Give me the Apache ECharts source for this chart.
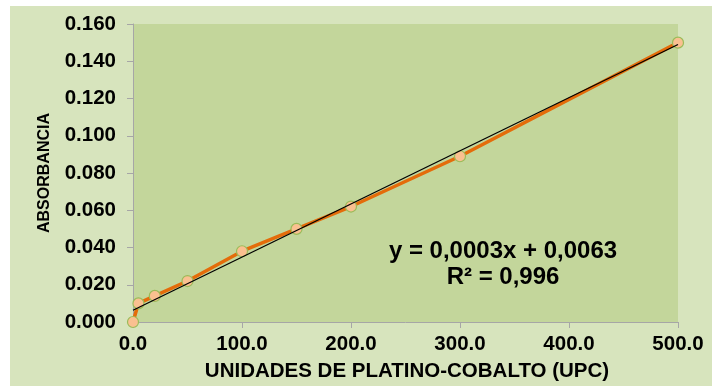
<!DOCTYPE html>
<html>
<head>
<meta charset="utf-8">
<script src="https://cdn.jsdelivr.net/npm/echarts@6/dist/echarts.min.js"></script>
<style>
html,body{margin:0;padding:0;background:#ffffff;}
#bg{position:absolute;left:10px;top:6px;width:702px;height:380px;background:#D7E4BD;}
#chart{position:absolute;left:0;top:0;width:712px;height:386px;}
</style>
</head>
<body>
<div id="bg"></div>
<div id="chart"></div>
<script>
// Data
const upc = [0, 5, 20, 50, 100, 150, 200, 300, 500];
const absorbance = [0.000, 0.010, 0.014, 0.022, 0.038, 0.050, 0.062, 0.089, 0.150];
const trendX = [0, 500];
const trendY = [0.0063, 0.149];
const equationText = 'y = 0,0003x + 0,0063';
const r2Text = 'R² = 0,996';
const xTitle = 'UNIDADES DE PLATINO-COBALTO (UPC)';
const yTitle = 'ABSORBANCIA';

const chart = echarts.init(document.getElementById('chart'), null, {renderer: 'canvas'});
const font = '"Liberation Sans", Arial, sans-serif';
const axisGray = '#A6A6A6';

chart.setOption({
  animation: false,
  backgroundColor: 'transparent',
  grid: {left: 133, top: 24, right: 34, bottom: 64, show: true, backgroundColor: '#C3D69B', borderWidth: 0},
  xAxis: {
    type: 'value', min: 0, max: 500, interval: 100,
    axisLine: {show: true, lineStyle: {color: axisGray, width: 1}},
    axisTick: {show: true, length: 6, lineStyle: {color: axisGray}},
    splitLine: {show: false},
    axisLabel: {margin: 12, color: '#000', fontFamily: font, fontWeight: 'bold', fontSize: 20.5,
      formatter: v => v.toFixed(1)}
  },
  yAxis: {
    type: 'value', min: 0, max: 0.16, interval: 0.02,
    axisLine: {show: true, lineStyle: {color: axisGray, width: 1}},
    axisTick: {show: true, length: 6, lineStyle: {color: axisGray}},
    splitLine: {show: false},
    axisLabel: {margin: 17, color: '#000', fontFamily: font, fontWeight: 'bold', fontSize: 20.5,
      formatter: v => v.toFixed(3)}
  },
  series: [
    {
      type: 'line',
      data: upc.map((x, i) => [x, absorbance[i]]),
      lineStyle: {color: '#E46C0A', width: 3.5},
      symbol: 'circle', symbolSize: 11,
      itemStyle: {color: '#FAC090', borderColor: '#9BBB59', borderWidth: 1.2},
      z: 2
    },
    {
      type: 'line',
      data: trendX.map((x, i) => [x, trendY[i]]),
      lineStyle: {color: '#000000', width: 1.3},
      symbol: 'none',
      z: 3
    }
  ],
  graphic: [
    {type: 'text', x: 503, y: 251, z: 10, style: {text: equationText, fill: '#000', font: 'bold 24px ' + font, textAlign: 'center', textVerticalAlign: 'middle'}},
    {type: 'text', x: 503, y: 277, z: 10, style: {text: r2Text, fill: '#000', font: 'bold 24px ' + font, textAlign: 'center', textVerticalAlign: 'middle'}},
    {type: 'text', x: 407, y: 371, z: 10, style: {text: xTitle, fill: '#000', font: 'bold 20.5px ' + font, textAlign: 'center', textVerticalAlign: 'middle'}},
    {type: 'text', x: 45, y: 173, rotation: Math.PI / 2, z: 10, style: {text: yTitle, fill: '#000', font: 'bold 16px ' + font, textAlign: 'center', textVerticalAlign: 'middle'}}
  ]
});
</script>
</body>
</html>
